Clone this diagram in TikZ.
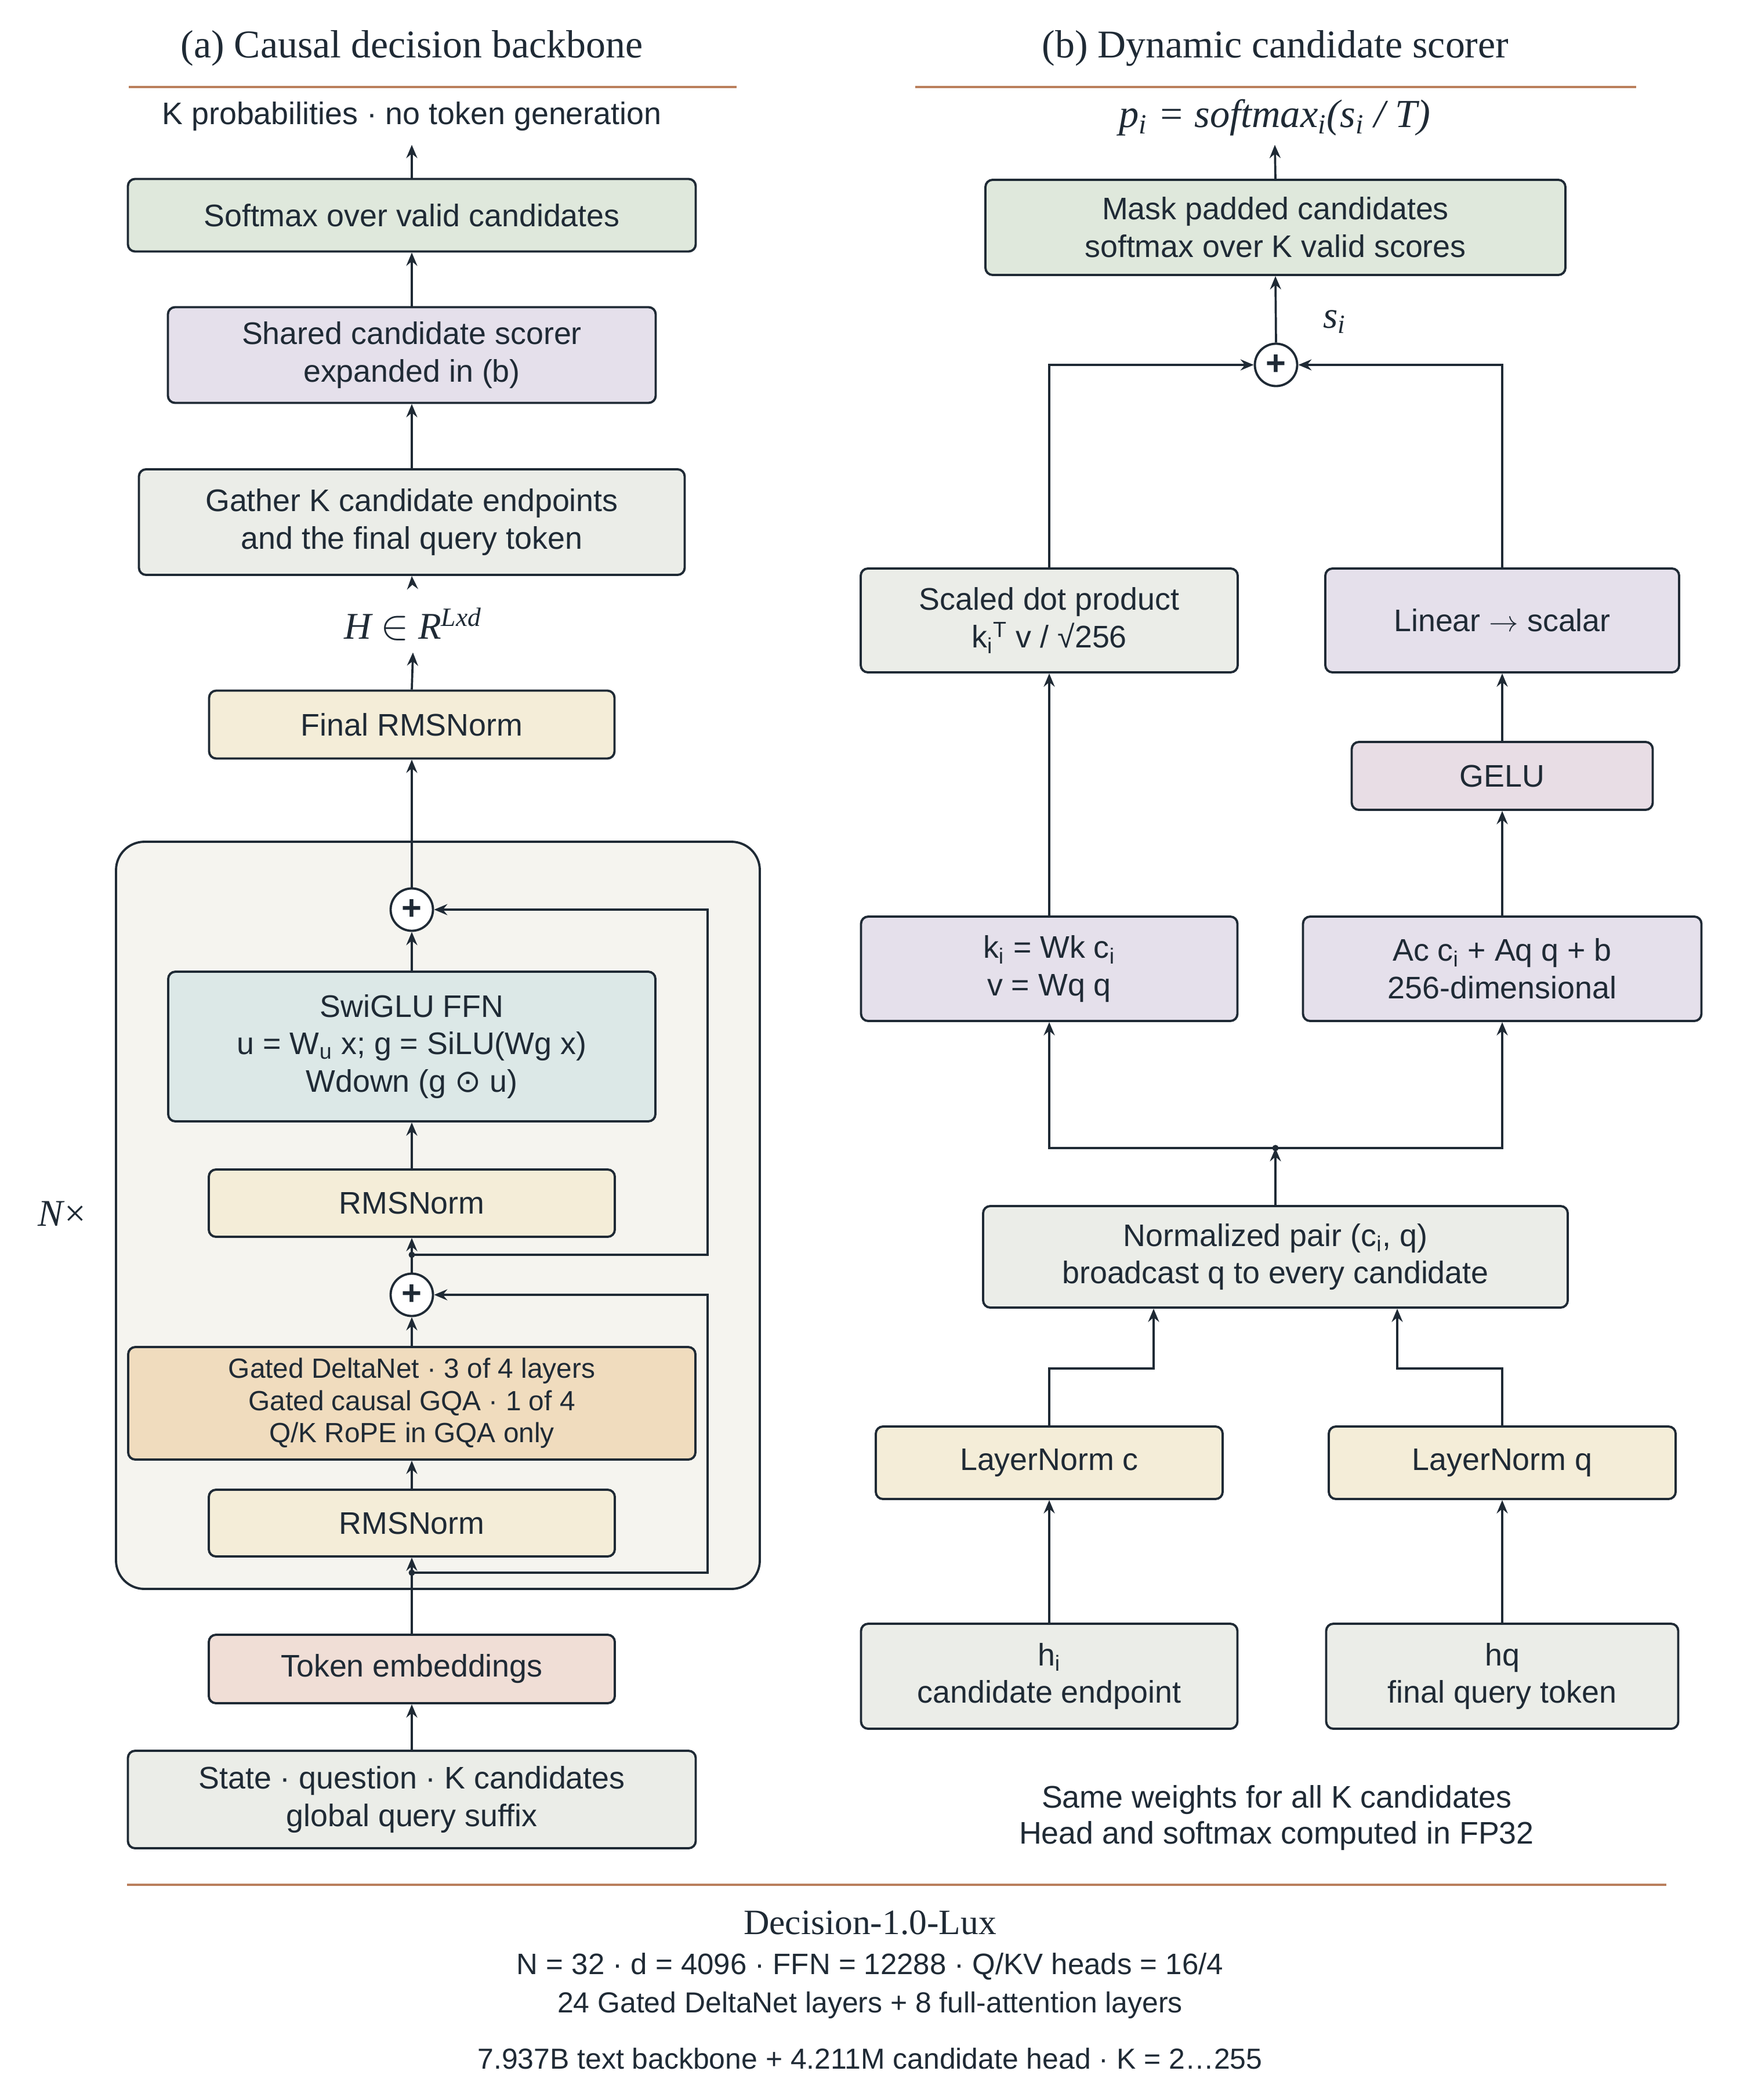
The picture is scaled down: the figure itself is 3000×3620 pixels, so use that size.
\documentclass[tikz,border=0pt]{standalone}
\usepackage{fontspec}
\setmainfont{Liberation Serif}
\setsansfont{Liberation Sans}
\newfontfamily\djv{DejaVu Sans}
\usetikzlibrary{arrows.meta}
\definecolor{ink}{HTML}{1F2A35}
\definecolor{cgreen}{HTML}{DFE8DC}
\definecolor{cpurple}{HTML}{E5E0EB}
\definecolor{cgray}{HTML}{EBEDE8}
\definecolor{ccream}{HTML}{F4EDD8}
\definecolor{cblue}{HTML}{DCE8E7}
\definecolor{cpeach}{HTML}{F0DCBE}
\definecolor{cpink}{HTML}{F0DED6}
\definecolor{cgelu}{HTML}{E8DDE5}
\definecolor{cblk}{HTML}{F5F4EF}
\definecolor{crule}{HTML}{BA7F5C}
\newcommand\boxfont{\sffamily\fontsize{15.3}{18.4}\selectfont}
\newcommand\smallboxfont{\sffamily\fontsize{13.6}{15.8}\selectfont}
\newcommand\titlefont{\rmfamily\fontsize{19.3}{23}\selectfont}
\newcommand\mathlabfont{\rmfamily\itshape\fontsize{18.5}{22}\selectfont}
\tikzset{
  box/.style={draw=ink, line width=1.1pt, rounded corners=3.5pt, align=center,
    font=\boxfont, text=ink, inner sep=0pt},
  lbl/.style={font=\boxfont, text=ink, align=center, inner sep=0pt},
  arr/.style={draw=ink, line width=1.05pt, -{Stealth[length=6.5pt,width=5.4pt,inset=2.2pt]}},
  wire/.style={draw=ink, line width=1.05pt},
  sumc/.style={circle, draw=ink, line width=1.1pt, fill=white, minimum size=7.3mm,
    inner sep=0pt, font=\sffamily\bfseries\fontsize{17}{17}\selectfont, text=ink},
  rulel/.style={draw=crule, line width=0.9pt},
}
\begin{document}
\begin{tikzpicture}[x=0.1mm,y=-0.1mm]
\fill[white] (0,0) rectangle (3000,3620);
\useasboundingbox (0,0) rectangle (3000,3620);

% ---------- titles and rules ----------
\node[font=\titlefont, text=ink] (ta) at (710,83) {(a) Causal decision backbone};
\node[font=\titlefont, text=ink] (tb) at (2199,83) {(b) Dynamic candidate scorer};
\draw[rulel] (222,150) -- (1270,150);
\draw[rulel] (1578,150) -- (2821,150);

% ---------- left panel ----------
\node[draw=ink, line width=1.1pt, fill=cblk, rounded corners=4.9mm,
      minimum width=111mm, minimum height=128.8mm, inner sep=0pt] (blk) at (755,2095) {};
\node[font=\rmfamily\fontsize{18.5}{22}\selectfont, text=ink] (nx) at (107,2092) {\textit{N}×};

\node[lbl, minimum height=9.6mm] (kp) at (710,201) {K probabilities · no token generation};
\node[box, fill=cgreen, minimum width=97.9mm, minimum height=12.5mm] (soft) at (710,371) {Softmax over valid candidates};
\node[box, fill=cpurple, minimum width=84.1mm, minimum height=16.5mm] (shared) at (710,612) {Shared candidate scorer\\expanded in (b)};
\node[box, fill=cgray, minimum width=94.1mm, minimum height=18.2mm] (gather) at (710,900) {Gather K candidate endpoints\\and the final query token};
\node[font=\mathlabfont, text=ink, inner sep=0pt, minimum height=9.6mm] (hlab) at (712,1076) {H {\fontsize{22}{22}\selectfont$\in$} R\textsuperscript{Lxd}};
\node[box, fill=ccream, minimum width=69.9mm, minimum height=11.7mm] (final) at (710,1249) {Final RMSNorm};

\node[sumc] (plus2) at (710,1568) {+};
\node[box, fill=cblue, minimum width=84.0mm, minimum height=25.8mm] (ffn) at (710,1804) {SwiGLU FFN\\u = W\textsubscript{u} x; g = SiLU(Wg x)\\Wdown (g {\djv ⊙} u)};
\node[box, fill=ccream, minimum width=70.0mm, minimum height=11.6mm] (rms2) at (710,2074) {RMSNorm};
\node[sumc] (plus1) at (710,2232) {+};
\node[box, fill=cpeach, font=\smallboxfont, minimum width=97.8mm, minimum height=19.4mm] (delta) at (710,2419) {Gated DeltaNet · 3 of 4 layers\\Gated causal GQA · 1 of 4\\Q/K RoPE in GQA only};
\node[box, fill=ccream, minimum width=70.0mm, minimum height=11.5mm] (rms1) at (710,2625.5) {RMSNorm};
\node[box, fill=cpink, minimum width=70.0mm, minimum height=11.8mm] (tok) at (710,2877) {Token embeddings};
\node[box, fill=cgray, minimum width=97.9mm, minimum height=16.8mm] (state) at (710,3102) {State · question · K candidates\\global query suffix};

\coordinate (dot1) at (710,2711);
\coordinate (sk1) at (1220,2711);
\coordinate (dot2) at (710,2163);
\coordinate (sk2) at (1220,2163);

\draw[arr] (state.north) -- (tok.south);
\draw[arr] (tok.north) -- (rms1.south);
\draw[arr] (rms1.north) -- (delta.south);
\draw[arr] (delta.north) -- (plus1.south);
\draw[arr] (plus1.north) -- (rms2.south);
\draw[arr] (rms2.north) -- (ffn.south);
\draw[arr] (ffn.north) -- (plus2.south);
\draw[arr] (plus2.north) -- (final.south);
\draw[arr] (final.north) -- (hlab.south);
\draw[arr, shorten <=2.4mm] (hlab.north) -- (gather.south);
\draw[arr] (gather.north) -- (shared.south);
\draw[arr] (shared.north) -- (soft.south);
\draw[arr] (soft.north) -- (kp.south);
\draw[arr] (dot1) -- (sk1) |- (plus1.east);
\draw[arr] (dot2) -- (sk2) |- (plus2.east);
\fill[ink] (dot1) circle (0.55mm);
\fill[ink] (dot2) circle (0.55mm);

% ---------- right panel ----------
\node[font=\rmfamily\itshape\fontsize{19.5}{23}\selectfont, text=ink, inner sep=0pt, minimum height=9.2mm] (pform) at (2198,203) {p\textsubscript{i} = softmax\textsubscript{i}(s\textsubscript{i} / T)};
\node[box, fill=cgreen, minimum width=100.0mm, minimum height=16.4mm] (mask) at (2199,392) {Mask padded candidates\\softmax over K valid scores};
\node[sumc] (plus3) at (2200,629) {+};
\node[font=\mathlabfont, text=ink] (si) at (2301,555) {s\textsubscript{i}};
\node[box, fill=cgray, minimum width=65.0mm, minimum height=17.9mm] (sdp) at (1809,1069.5) {Scaled dot product\\k\textsubscript{i}\textsuperscript{T} v / √256};
\node[box, fill=cpurple, minimum width=61.0mm, minimum height=17.9mm] (lin) at (2590,1069.5) {Linear $\rightarrow$ scalar};
\node[box, fill=cgelu, minimum width=51.9mm, minimum height=11.7mm] (gelu) at (2590,1337.5) {GELU};
\node[box, fill=cpurple, minimum width=64.9mm, minimum height=18.0mm] (kv) at (1809,1670) {k\textsubscript{i} = Wk c\textsubscript{i}\\v = Wq q};
\node[box, fill=cpurple, minimum width=68.7mm, minimum height=18.0mm] (ac) at (2590,1670) {Ac c\textsubscript{i} + Aq q + b\\256-dimensional};
\node[box, fill=cgray, minimum width=100.8mm, minimum height=17.5mm] (norm) at (2199,2166.5) {Normalized pair (c\textsubscript{i}, q)\\broadcast q to every candidate};
\node[box, fill=ccream, minimum width=59.8mm, minimum height=12.5mm] (lnc) at (1809,2521.5) {LayerNorm c};
\node[box, fill=ccream, minimum width=59.8mm, minimum height=12.5mm] (lnq) at (2590,2521.5) {LayerNorm q};
\node[box, fill=cgray, minimum width=64.9mm, minimum height=18.1mm] (hi) at (1809,2889.5) {h\textsubscript{i}\\candidate endpoint};
\node[box, fill=cgray, minimum width=60.7mm, minimum height=18.1mm] (hq) at (2590,2889.5) {hq\\final query token};
\node[lbl, font=\sffamily\fontsize{15.3}{17.7}\selectfont] (note) at (2201,3133.5) {Same weights for all K candidates\\Head and softmax computed in FP32};

\coordinate (stepc) at (1989,2359);
\coordinate (stepq) at (2409,2359);
\coordinate (jn) at (2199,1979);

\draw[arr] (hi.north) -- (lnc.south);
\draw[arr] (hq.north) -- (lnq.south);
\draw[arr] (lnc.north) |- (stepc) -- (stepc |- norm.south);
\draw[arr] (lnq.north) |- (stepq) -- (stepq |- norm.south);
\draw[arr] (norm.north) -- (jn);
\draw[arr] (jn) -| (kv.south);
\draw[arr] (jn) -| (ac.south);
\fill[ink] (jn) circle (0.55mm);
\draw[arr] (kv.north) -- (sdp.south);
\draw[arr] (ac.north) -- (gelu.south);
\draw[arr] (gelu.north) -- (lin.south);
\draw[arr] (sdp.north) |- (plus3.west);
\draw[arr] (lin.north) |- (plus3.east);
\draw[arr] (plus3.north) -- (mask.south);
\draw[arr] (mask.north) -- (pform.south);

% ---------- bottom ----------
\draw[rulel] (219,3249) -- (2873,3249);
\node[font=\rmfamily\fontsize{17.5}{21}\selectfont, text=ink] (dname) at (1500,3314) {Decision-1.0-Lux};
\node[lbl, font=\sffamily\fontsize{14.5}{17}\selectfont] (spec1) at (1500,3390) {N = 32 · d = 4096 · FFN = 12288 · Q/KV heads = 16/4};
\node[lbl, font=\sffamily\fontsize{14.2}{17}\selectfont] (spec2) at (1500,3457) {24 Gated DeltaNet layers + 8 full-attention layers};
\node[lbl, font=\sffamily\fontsize{14.2}{17}\selectfont] (spec3) at (1500,3549) {7.937B text backbone + 4.211M candidate head · K = 2…255};
\end{tikzpicture}
\end{document}
